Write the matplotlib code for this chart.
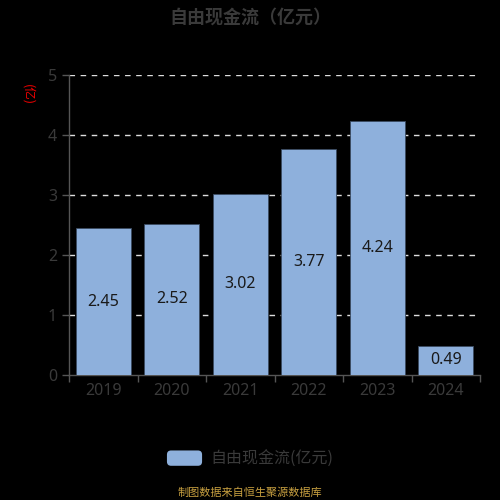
import matplotlib
matplotlib.use("Agg")
import matplotlib.pyplot as plt
from matplotlib.patches import FancyBboxPatch
from matplotlib.legend_handler import HandlerPatch

plt.rcParams['font.family'] = ['Noto Sans CJK SC', 'DejaVu Sans']
num_font = ['Noto Sans', 'DejaVu Sans']

years = ["2019", "2020", "2021", "2022", "2023", "2024"]
values = [2.45, 2.52, 3.02, 3.77, 4.24, 0.49]
yticks = [0, 1, 2, 3, 4, 5]

bar_color = "#8eb0dc"
txt_color = "#3a3a3a"

fig = plt.figure(figsize=(5, 5), dpi=100, facecolor="black")
ax = fig.add_axes([0.138, 0.25, 0.822, 0.60], facecolor="black")

x = list(range(len(years)))
bars = ax.bar(x, values, width=0.8, color=bar_color, edgecolor="#3a4a60", linewidth=0.6,
              zorder=3, label="自由现金流(亿元)")
for xi, v in zip(x, values):
    ax.text(xi, v / 2, f"{v:.2f}", ha="center", va="center", fontsize=11.5,
            color="#1a1a1a", zorder=4, family=num_font)

ax.set_xlim(-0.5, len(years) - 0.5)
ax.set_ylim(0, 5)
ax.set_yticks(yticks)
ax.set_yticklabels([str(t) for t in yticks], family=num_font)
ax.set_xticks(x)
ax.set_xticklabels(years, family=num_font)
ax.set_xticks([i - 0.5 for i in range(len(years) + 1)], minor=True)

for t in yticks[1:]:
    ax.axhline(t, color="#dddddd", linestyle=(0, (4, 4)), linewidth=1, zorder=2)

for s in ["top", "right"]:
    ax.spines[s].set_visible(False)
for s in ["left", "bottom"]:
    ax.spines[s].set_color("#555555")
    ax.spines[s].set_linewidth(1)

ax.tick_params(axis="y", colors="#555555", labelcolor=txt_color, labelsize=11.5, length=5, width=1)
ax.tick_params(axis="x", which="major", length=0, labelcolor=txt_color, labelsize=11.5, pad=6)
ax.tick_params(axis="x", which="minor", length=5, width=1, colors="#555555")

fig.text(0.056, 0.81, "(亿)", rotation=-90, color="#ee0000", fontsize=9, ha="center", va="center")

fig.text(0.5, 0.965, "自由现金流（亿元）", ha="center", va="center", fontsize=13,
         fontweight="bold", color=txt_color)


class HandlerRound(HandlerPatch):
    def create_artists(self, legend, orig_handle, xdescent, ydescent, width, height, fontsize, trans):
        p = FancyBboxPatch((-xdescent, -ydescent), width, height,
                           boxstyle="round,pad=0,rounding_size=3",
                           facecolor=bar_color, edgecolor="none", transform=trans)
        return [p]

leg = fig.legend(handles=[bars.patches[0]], labels=["自由现金流(亿元)"], loc="center",
                 bbox_to_anchor=(0.5, 0.082), frameon=False, fontsize=11.5,
                 handlelength=2.2, handleheight=1.1, handletextpad=0.5,
                 handler_map={type(bars.patches[0]): HandlerRound()})
for t in leg.get_texts():
    t.set_color(txt_color)

fig.text(0.5, 0.015, "制图数据来自恒生聚源数据库", ha="center", va="center", fontsize=8, color="#c8a040")

fig.savefig("out.png", dpi=100, facecolor="black")
